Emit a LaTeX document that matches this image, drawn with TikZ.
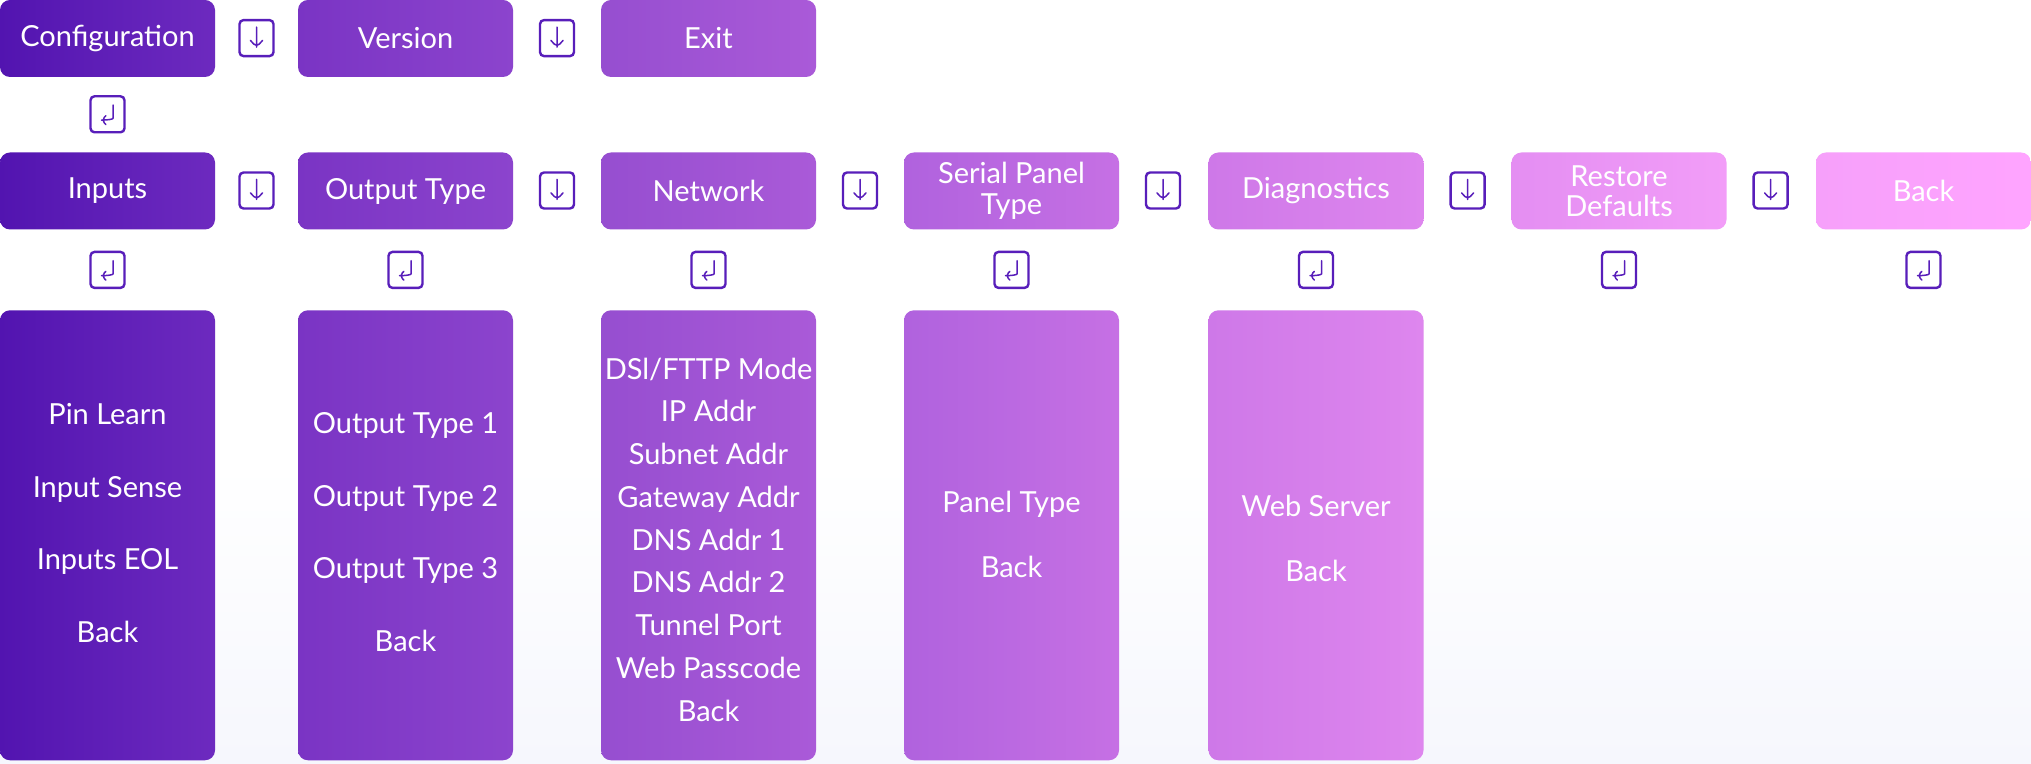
\documentclass[tikz,border=0pt]{standalone}
\usepackage{fontspec}
\setmainfont{Lato}

% Colours of the menu boxes, left and right end of each column
\definecolor{colAl}{RGB}{82,20,176}
\definecolor{colAr}{RGB}{109,42,191}
\definecolor{colBl}{RGB}{122,52,196}
\definecolor{colBr}{RGB}{140,68,205}
\definecolor{colCl}{RGB}{150,78,208}
\definecolor{colCr}{RGB}{170,90,216}
\definecolor{colDl}{RGB}{176,98,222}
\definecolor{colDr}{RGB}{198,112,228}
\definecolor{colEl}{RGB}{206,120,232}
\definecolor{colEr}{RGB}{222,134,238}
\definecolor{colFl}{RGB}{228,142,242}
\definecolor{colFr}{RGB}{242,157,248}
\definecolor{colGl}{RGB}{246,160,250}
\definecolor{colGr}{RGB}{255,164,255}
\definecolor{keyline}{RGB}{88,30,186}
\definecolor{bgblue}{RGB}{246,247,253}

\tikzset{
  menubox/.style={rounded corners=5pt, inner sep=0pt, text=white,
    font=\fontsize{14.5}{15.2}\selectfont, align=center,
    minimum width=107.5pt, minimum height=38.5pt},
  listbox/.style={rounded corners=5pt, inner sep=0pt,
    minimum width=107.5pt, minimum height=225pt},
  item/.style={text=white, font=\fontsize{14.5}{15}\selectfont,
    inner sep=0pt, text height=0.7em, text depth=0pt},
  keybox/.style={draw=keyline, line width=1.2pt, fill=white,
    rounded corners=2pt, minimum width=17pt, minimum height=18pt, inner sep=0pt},
  keyarrow/.style={draw=keyline, line width=0.75pt, line cap=round, line join=round},
  keydown/.style={keybox, path picture={
    \draw[keyarrow, shift={(path picture bounding box.center)}]
      (0pt,5.5pt) -- (0pt,-4.5pt) (-3pt,-1.2pt) -- (0pt,-4.5pt) -- (3pt,-1.2pt);}},
  keyenter/.style={keybox, path picture={
    \draw[keyarrow, shift={(path picture bounding box.center)}]
      (2.8pt,4.6pt) -- (2.8pt,0pt) to[out=-90,in=0] (-3pt,-2.9pt)
      (-0.8pt,-0.7pt) -- (-3pt,-2.9pt) -- (-0.8pt,-5.1pt);}}
}

\begin{document}
\begin{tikzpicture}[x=0.5pt, y=-0.5pt]

% Background, fading to a pale blue at the bottom
\fill[white] (0,0) rectangle (2031,763);
\fill[top color=white, bottom color=bgblue] (0,460) rectangle (2031,763);

% Top menu
\node[menubox, left color=colAl, right color=colAr] (conf) at (107.5,38) {Configuration};
\node[menubox, left color=colBl, right color=colBr] (vers) at (405.5,38) {Version};
\node[menubox, left color=colCl, right color=colCr] (exit) at (708.5,38) {Exit};

% Configuration menu
\node[menubox, left color=colAl, right color=colAr] (inputs) at (107.5,190.5) {Inputs};
\node[menubox, left color=colBl, right color=colBr] (otype) at (405.5,190.5) {Output Type};
\node[menubox, left color=colCl, right color=colCr] (network) at (708.5,190.5) {Network};
\node[menubox, left color=colDl, right color=colDr] (serial) at (1011.5,190.5) {Serial Panel\\Type};
\node[menubox, left color=colEl, right color=colEr] (diag) at (1316,190.5) {Diagnostics};
\node[menubox, left color=colFl, right color=colFr] (restore) at (1619,190.5) {Restore\\Defaults};
\node[menubox, left color=colGl, right color=colGr] (back) at (1923.5,190.5) {Back};

% Sub menus
\node[listbox, left color=colAl, right color=colAr] (inbox) at (107.5,534.8) {};
\node[listbox, left color=colBl, right color=colBr] (outbox) at (405.5,534.8) {};
\node[listbox, left color=colCl, right color=colCr] (netbox) at (708.5,534.8) {};
\node[listbox, left color=colDl, right color=colDr] (panelbox) at (1011.5,534.8) {};
\node[listbox, left color=colEl, right color=colEr] (diagbox) at (1316,534.8) {};

\foreach \t [count=\i] in {Pin Learn, Input Sense, Inputs EOL, Back}
  \node[item] (inp-\i) at (107.5,345+72.4*\i) {\t};
\foreach \t [count=\i] in {Output Type 1, Output Type 2, Output Type 3, Back}
  \node[item] (out-\i) at (405.5,354+72.5*\i) {\t};
\foreach \t [count=\i] in {DSl/FTTP Mode, IP Addr, Subnet Addr, Gateway Addr,
    DNS Addr 1, DNS Addr 2, Tunnel Port, Web Passcode, Back}
  \node[item] (net-\i) at (708.5,329+42.75*\i) {\t};
\foreach \t [count=\i] in {Panel Type, Back}
  \node[item] (pan-\i) at (1011.5,440.5+64.7*\i) {\t};
\foreach \t [count=\i] in {Web Server, Back}
  \node[item] (web-\i) at (1316,444.5+64.7*\i) {\t};

% Down keys between the menu entries
\foreach \x [count=\i] in {256.5,557}
  \node[keydown] (topdn-\i) at (\x,37.6) {};
\foreach \x [count=\i] in {256.5,557,860,1163,1467.6,1770.6}
  \node[keydown] (dn-\i) at (\x,190) {};

% Enter keys below the menu entries
\node[keyenter] (topent) at (107.5,113.8) {};
\foreach \x [count=\i] in {107.5,405.5,708.5,1011.5,1316,1619,1923.5}
  \node[keyenter] (ent-\i) at (\x,269.4) {};

\end{tikzpicture}
\end{document}
